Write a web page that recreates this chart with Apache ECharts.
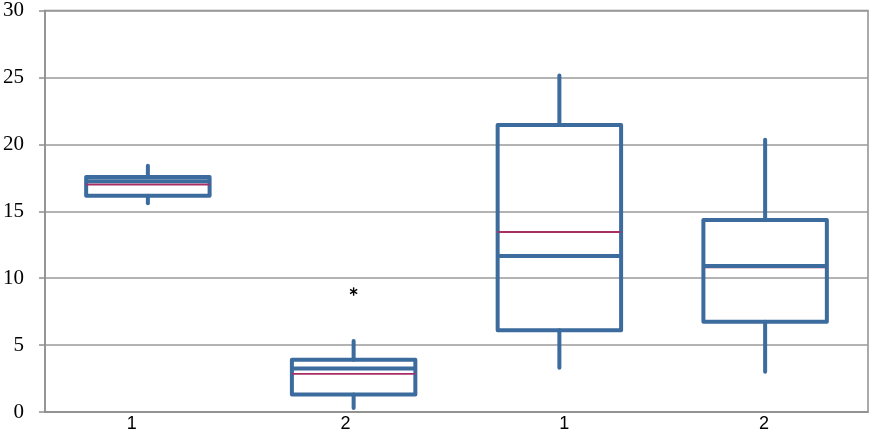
<!DOCTYPE html>
<html>
<head>
<meta charset="utf-8">
<script src="https://cdn.jsdelivr.net/npm/echarts@6/dist/echarts.min.js"></script>
<style>html,body{margin:0;padding:0;background:#fff;}#c{width:871px;height:433px;}</style>
</head>
<body>
<div id="c"></div>
<script>
const categories = ['1', '2', '1', '2'];
const whiskerLow = [15.6, 0.3, 3.3, 3.0];
const q1 = [16.15, 1.3, 6.1, 6.75];
const median = [17.25, 3.25, 11.65, 10.9];
const q3 = [17.55, 3.9, 21.45, 14.35];
const whiskerHigh = [18.4, 5.3, 25.15, 20.35];
const mean = [17.0, 2.85, 13.45, 10.8];
const outlierCategory = [1];
const outlierValue = [9.0];
const yTicks = [0, 5, 10, 15, 20, 25, 30];

const BLUE = '#3C6B9E';
const MAG = '#A82F63';

const boxData = categories.map((c, i) => [i, whiskerLow[i], q1[i], median[i], q3[i], whiskerHigh[i], mean[i]]);
const outData = outlierCategory.map((c, i) => [c, outlierValue[i]]);

const labelShift = [-16, -8, 5, -1];

function renderBox(params, api) {
  const i = api.value(0);
  const band = api.size([1, 0])[0];
  const w = band * 0.6;
  const pLow = api.coord([i, api.value(1)]);
  const pQ1 = api.coord([i, api.value(2)]);
  const pMed = api.coord([i, api.value(3)]);
  const pQ3 = api.coord([i, api.value(4)]);
  const pHigh = api.coord([i, api.value(5)]);
  const pMean = api.coord([i, api.value(6)]);
  const x = pQ1[0];
  const l = x - w / 2, r = x + w / 2;
  const lineStyle = { stroke: BLUE, lineWidth: 4, lineCap: 'round', lineJoin: 'round', fill: null };
  return {
    type: 'group',
    children: [
      { type: 'line', shape: { x1: x, y1: pQ3[1], x2: x, y2: pHigh[1] }, style: lineStyle },
      { type: 'line', shape: { x1: x, y1: pQ1[1], x2: x, y2: pLow[1] }, style: lineStyle },
      { type: 'rect', shape: { x: l, y: pQ3[1], width: w, height: pQ1[1] - pQ3[1] }, style: { stroke: BLUE, lineWidth: 4, lineJoin: 'round', fill: 'rgba(0,0,0,0)' } },
      { type: 'line', shape: { x1: l, y1: pMean[1], x2: r, y2: pMean[1] }, style: { stroke: MAG, lineWidth: 1.8 } },
      { type: 'line', shape: { x1: l, y1: pMed[1], x2: r, y2: pMed[1] }, style: { stroke: BLUE, lineWidth: 4 } }
    ]
  };
}

function renderStar(params, api) {
  const p = api.coord([api.value(0), api.value(1)]);
  const s = 4.2;
  const d = s * 0.85;
  const st = { stroke: '#000', lineWidth: 1.4 };
  return {
    type: 'group',
    children: [
      { type: 'line', shape: { x1: p[0], y1: p[1] - s, x2: p[0], y2: p[1] + s }, style: st },
      { type: 'line', shape: { x1: p[0] - d, y1: p[1] - d * 0.6, x2: p[0] + d, y2: p[1] + d * 0.6 }, style: st },
      { type: 'line', shape: { x1: p[0] - d, y1: p[1] + d * 0.6, x2: p[0] + d, y2: p[1] - d * 0.6 }, style: st }
    ]
  };
}

const rich = {};
labelShift.forEach((s, i) => {
  rich['s' + i] = {
    fontFamily: 'Liberation Sans', fontSize: 18, color: '#000',
    padding: s < 0 ? [0, -2 * s, 0, 0] : [0, 0, 0, 2 * s]
  };
});

const chart = echarts.init(document.getElementById('c'), null, { renderer: 'canvas' });
chart.setOption({
  animation: false,
  backgroundColor: '#fff',
  grid: { left: 45, right: 3, top: 10, bottom: 21, show: true, borderColor: '#8E8E8E', borderWidth: 1.5, containLabel: false },
  xAxis: {
    type: 'category',
    data: categories,
    boundaryGap: true,
    axisLine: { show: true, lineStyle: { color: '#8E8E8E', width: 1.5 } },
    axisTick: { show: false },
    splitLine: { show: false },
    axisLabel: {
      margin: 3,
      formatter: (v, i) => '{s' + i + '|' + v + '}',
      rich: rich
    }
  },
  yAxis: {
    type: 'value',
    min: yTicks[0],
    max: yTicks[yTicks.length - 1],
    interval: yTicks[1] - yTicks[0],
    axisLine: { show: true, lineStyle: { color: '#8E8E8E', width: 1.5 } },
    axisTick: { show: true, length: 6, lineStyle: { color: '#8E8E8E', width: 1.5 } },
    splitLine: { show: true, lineStyle: { color: '#9A9A9A', width: 1.5 } },
    axisLabel: { margin: 21, fontFamily: 'Liberation Serif', fontSize: 21, color: '#000' }
  },
  series: [
    { type: 'custom', renderItem: renderBox, data: boxData, encode: { x: 0, y: [1, 2, 3, 4, 5] }, z: 3 },
    { type: 'custom', renderItem: renderStar, data: outData, encode: { x: 0, y: 1 }, z: 4 }
  ]
});
</script>
</body>
</html>
